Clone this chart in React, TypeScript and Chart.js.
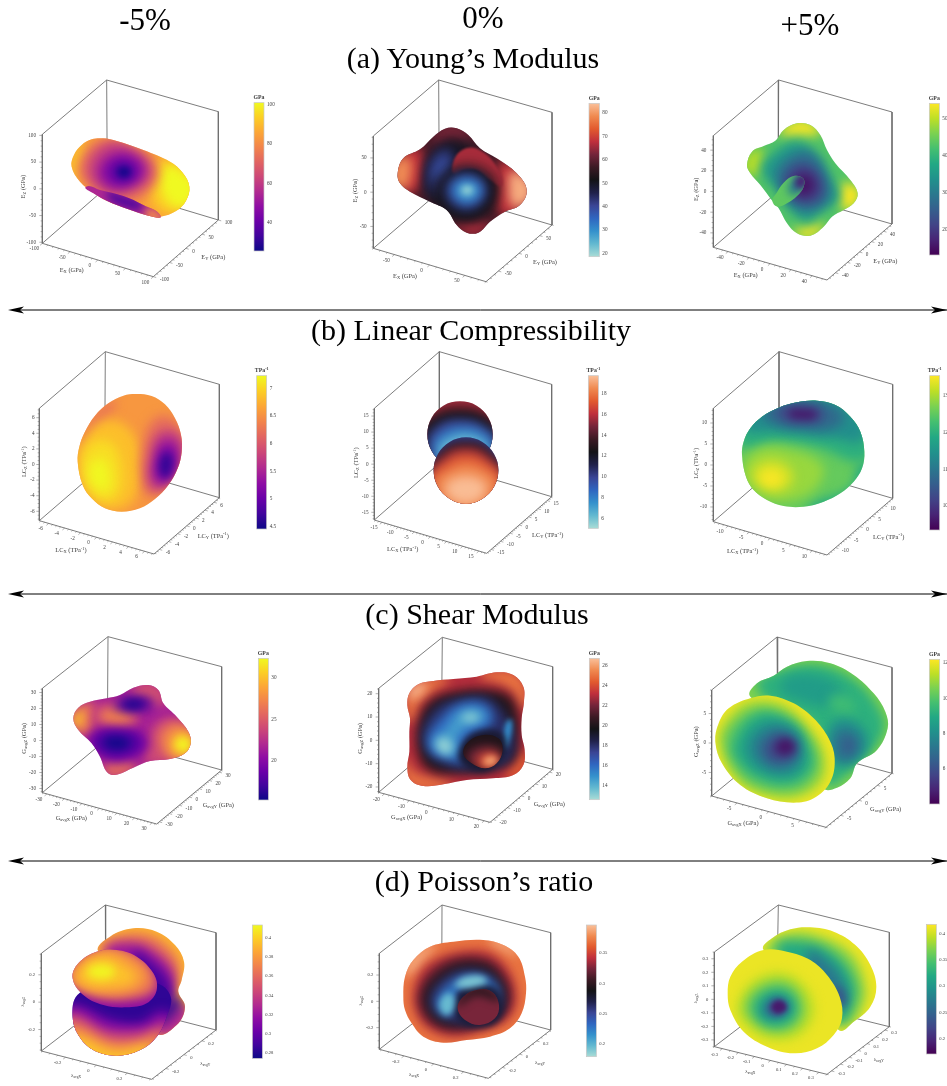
import React, { useEffect, useRef } from "react";
import { Chart, registerables } from "chart.js";

Chart.register(...registerables);

const FONT = '"Liberation Serif"';
const columnHeads = [{ t: "-5%", x: 145, y: 20 }, { t: "0%", x: 483, y: 18 }, { t: "+5%", x: 810, y: 25 }];
const sectionHeads = [
  { t: "(a) Young\u2019s Modulus", x: 473, y: 58 },
  { t: "(b) Linear Compressibility", x: 471, y: 330 },
  { t: "(c) Shear Modulus", x: 477, y: 614 },
  { t: "(d) Poisson\u2019s ratio", x: 484, y: 881 },
];
const separatorY = [310, 594, 861];

const plasma = ["#0d0887", "#41049d", "#6a00a8", "#8f0da4", "#b12a90", "#cc4778", "#e16462", "#f2844b", "#fca636", "#fcce25", "#f0f921"];
const viridis = ["#440154", "#482475", "#414487", "#355f8d", "#2a788e", "#21918c", "#22a884", "#44bf70", "#7ad151", "#bddf26", "#fde725"];
const icefire = ["#a9dcd6", "#63b9d0", "#3491cc", "#2f66c0", "#3a4595", "#20214a", "#131316", "#3b1a24", "#74243a", "#bf2f3c", "#e25a2e", "#f08a50", "#fac09a"];

function mix(map: string[], t: number) {
  const c = Math.max(0, Math.min(1, t)) * (map.length - 1);
  const i = Math.min(map.length - 2, Math.floor(c));
  const f = c - i;
  const a = map[i], b = map[i + 1];
  const ch = (s: string, k: number) => parseInt(s.slice(1 + k * 2, 3 + k * 2), 16);
  return `rgb(${[0, 1, 2].map((k) => Math.round(ch(a, k) + (ch(b, k) - ch(a, k)) * f)).join(",")})`;
}

type Layer = { v: number; pts: number[]; blur?: number };
type Region = { outline: number[]; base: number; layers: Layer[] };

/* Panel 1 */
const p1Body = [215,290,222,255,245,225,275,208,310,205,350,213,430,240,510,275,548,308,568,350,558,392,528,423,482,440,445,437,385,418,320,392,280,368,240,335];
const p1Under = [258,350,300,360,370,378,430,405,482,438,445,437,385,418,320,392,280,370];
const p1Regions: Region[] = [
  { outline: p1Body, base: 85, layers: [
    { v: 93, pts: [460,280,550,295,580,370,530,430,460,400] },
    { v: 101, pts: [495,290,560,310,590,360,545,415,490,375] },
    { v: 92, pts: [205,290,235,225,265,225,240,300,225,335] },
    { v: 73, pts: [235,290,295,210,400,225,475,295,430,380,340,400,265,350] },
    { v: 60, pts: [265,300,320,222,400,238,452,305,400,362,320,368] },
    { v: 47, pts: [298,300,345,252,412,265,432,310,385,348,325,348] },
    { v: 36, pts: [330,305,370,272,408,305,370,338] },
    { v: 27, pts: [352,305,372,290,392,305,372,322], blur: 3 },
  ] },
  { outline: p1Under, base: 55, layers: [
    { v: 80, pts: [440,415,480,430,495,450,445,450], blur: 4 },
    { v: 34, pts: [320,372,380,382,428,408,392,416], blur: 4 },
  ] },
];

/* Panel 2 */
const p2Body = [233,310,250,265,300,238,340,200,375,176,410,175,445,195,480,235,530,265,590,310,620,360,600,405,555,425,510,455,475,488,440,488,410,465,380,420,330,395,270,365,240,340];
const p2Regions: Region[] = [
  { outline: p2Body, base: 58, layers: [
    { v: 68, pts: [225,310,250,250,300,235,310,300,295,355,260,370] },
    { v: 79, pts: [215,310,245,258,272,272,270,328,255,355,225,350] },
    { v: 68, pts: [540,275,600,300,630,360,600,420,545,435,530,350] },
    { v: 82, pts: [575,305,615,320,640,365,605,410,575,405,565,350] },
    { v: 63, pts: [340,205,375,168,410,168,450,195,430,210,390,198,350,222] },
    { v: 66, pts: [400,458,440,450,480,452,510,460,475,495,440,495,415,475] },
    { v: 50, pts: [315,300,345,235,400,210,460,235,510,300,520,370,490,430,430,450,365,420,320,370] },
    { v: 44, pts: [330,270,385,235,400,290,360,375,325,360,320,310] },
    { v: 39, pts: [350,275,378,255,380,300,350,335,337,325,340,295] },
    { v: 66, pts: [396,300,408,258,438,235,475,238,520,275,548,345,510,330,470,300,430,300,405,312], blur: 1.2 },
    { v: 52, pts: [345,365,440,288,530,355,440,450], blur: 7 },
    { v: 44, pts: [370,362,440,303,505,360,440,425] },
    { v: 35, pts: [390,360,440,322,490,360,440,405] },
    { v: 27, pts: [408,360,440,336,475,360,440,390] },
    { v: 20, pts: [425,360,440,348,458,360,440,373], blur: 3 },
  ] },
];

/* Panel 3 */
const p3Body = [300,285,315,245,350,228,385,212,410,180,450,160,490,165,520,195,540,240,565,280,610,330,632,370,620,400,590,420,555,440,530,470,490,497,450,490,420,460,395,415,378,395,340,345,310,310];
const p3Small = [376,392,388,370,410,338,440,318,468,325,470,350,450,378,420,400,392,410];
const p3Regions: Region[] = [
  { outline: p3Body, base: 43, layers: [
    { v: 54, pts: [400,190,450,150,500,160,520,190,450,195] },
    { v: 50, pts: [290,290,310,245,345,240,340,290,320,320] },
    { v: 54, pts: [590,340,640,360,625,410,590,420,580,380] },
    { v: 54, pts: [440,480,490,470,530,465,490,505,450,495] },
    { v: 35, pts: [345,300,385,245,450,215,510,255,555,330,575,385,520,425,480,455,430,420,395,365] },
    { v: 28, pts: [385,310,425,260,490,245,540,320,545,390,480,425,430,400,400,355] },
    { v: 21, pts: [415,320,470,280,525,330,520,385,470,400,425,375] },
    { v: 15, pts: [438,335,480,312,503,350,477,378,448,367] },
  ] },
  { outline: p3Small, base: 44, layers: [
    { v: 30, pts: [430,335,465,310,480,345,445,375,425,370], blur: 4 },
    { v: 17, pts: [445,332,472,312,480,340,455,356], blur: 3 },
  ] },
];

/* Panel 4 */
const p4Body = [233,350,238,305,255,260,285,212,325,175,370,152,410,147,455,153,495,178,525,220,543,270,545,320,533,370,505,420,465,462,420,490,365,500,315,490,275,460,248,420];
const p4Regions: Region[] = [
  { outline: p4Body, base: 6.55, layers: [
    { v: 6.25, pts: [240,280,290,200,335,165,350,175,310,225,262,300] },
    { v: 6.85, pts: [235,340,265,260,330,225,395,260,425,350,400,465,330,495,255,445] },
    { v: 7.05, pts: [245,360,275,295,335,295,365,380,345,460,285,455] },
    { v: 7.22, pts: [265,390,300,340,330,390,315,440] },
    { v: 6.2, pts: [425,320,465,220,530,230,555,320,520,410,450,455,425,400] },
    { v: 5.7, pts: [450,340,482,260,545,280,540,345,510,415,455,430] },
    { v: 5.2, pts: [463,355,495,290,535,320,522,392,475,412] },
    { v: 4.65, pts: [478,357,500,322,518,350,502,398,485,392], blur: 4 },
  ] },
];

/* Panel 5 */
const p5Back = [322,268,335,218,370,182,420,169,470,182,505,218,518,268,505,318,470,354,420,367,370,354,335,318];
const p5Front = [341,376,354,327,389,291,438,277,487,291,522,327,535,376,522,425,487,461,438,476,389,461,354,425];
const p5Regions: Region[] = [
  { outline: p5Back, base: 15.5, layers: [
    { v: 12.5, pts: [300,260,350,205,420,190,490,205,540,260,500,380,340,380] },
    { v: 10, pts: [320,290,360,235,420,222,480,235,530,290,480,380,360,380] },
    { v: 8, pts: [340,300,380,255,430,245,480,255,520,300,480,380,380,380] },
    { v: 6, pts: [360,310,400,280,440,272,480,285,500,310,470,370,390,370] },
  ] },
  { outline: p5Front, base: 10, layers: [
    { v: 12.5, pts: [325,400,375,305,438,288,500,305,550,400,438,500] },
    { v: 15, pts: [325,400,380,318,438,302,495,318,550,400,438,500] },
    { v: 17, pts: [330,410,385,338,438,322,490,338,545,410,438,505] },
    { v: 18.4, pts: [340,420,395,365,438,352,485,365,535,420,438,505] },
    { v: 19.6, pts: [375,430,438,392,500,430,438,478] },
  ] },
];

/* Panel 6 */
const p6Body = [285,330,290,290,310,250,345,215,395,188,450,172,510,167,565,180,610,215,640,260,652,320,645,370,620,410,580,445,530,470,470,485,410,483,360,465,320,435,297,395];
const p6Regions: Region[] = [
  { outline: p6Body, base: 12.55, layers: [
    { v: 11.9, pts: [480,495,610,430,650,350,680,420,560,510] },
    { v: 12, pts: [270,290,320,190,470,150,640,190,670,330,620,350,520,310,400,290,300,310] },
    { v: 11.4, pts: [290,250,340,190,470,155,610,190,650,280,560,280,470,270,380,260] },
    { v: 10.8, pts: [345,205,420,170,540,175,590,220,540,255,460,250,390,240] },
    { v: 10.2, pts: [390,195,470,180,530,200,520,225,470,235,410,225] },
    { v: 9.6, pts: [425,205,470,195,510,208,475,222], blur: 4 },
    { v: 12.9, pts: [285,370,340,310,430,315,525,360,510,425,440,465,360,465,305,430] },
    { v: 13.3, pts: [315,385,370,345,435,380,420,430,355,435] },
    { v: 13.5, pts: [340,395,380,375,405,405,370,425], blur: 4 },
  ] },
];

/* Panel 7 */
const p7Body = [220,280,235,248,270,230,320,220,360,210,400,188,445,180,475,195,490,235,530,275,565,320,572,355,555,385,510,402,450,408,400,428,345,450,320,440,300,395,275,355,235,315];
const p7Regions: Region[] = [
  { outline: p7Body, base: 21.5, layers: [
    { v: 26, pts: [210,285,240,240,280,232,285,290,260,335,230,320] },
    { v: 30, pts: [215,285,235,255,252,262,245,302,228,310] },
    { v: 26, pts: [305,430,345,400,400,412,405,435,345,458,315,448] },
    { v: 24.5, pts: [395,190,445,172,485,192,495,238,450,232,405,215] },
    { v: 24, pts: [440,340,495,280,575,305,585,375,510,412,435,410] },
    { v: 27, pts: [478,340,520,295,580,322,580,380,520,405] },
    { v: 30, pts: [512,350,545,320,578,345,570,385,528,390] },
    { v: 32.3, pts: [528,355,552,338,570,355,552,380], blur: 4 },
    { v: 23.5, pts: [278,275,340,232,418,275,350,322] },
    { v: 27, pts: [298,272,340,248,398,275,350,302] },
    { v: 17.5, pts: [340,240,400,215,460,235,410,260,368,258] },
    { v: 15.8, pts: [370,238,400,226,430,238,400,250], blur: 4 },
    { v: 19, pts: [265,340,340,308,445,350,360,412,298,388] },
    { v: 17, pts: [288,345,340,322,415,350,350,388,298,372] },
    { v: 15.5, pts: [315,350,350,337,385,355,350,372], blur: 4 },
  ] },
];

/* Panel 8 */
const p8Body = [262,240,268,205,295,178,340,168,400,162,470,155,530,142,580,150,610,185,612,230,605,280,605,330,614,375,610,420,580,450,520,460,440,465,370,478,310,483,272,465,262,425,268,380,268,320,270,280];
const p8Lobe = [430,385,445,350,490,330,535,340,548,375,530,415,495,430,455,415];
const p8Regions: Region[] = [
  { outline: p8Body, base: 23, layers: [
    { v: 25, pts: [255,240,270,190,310,165,385,160,345,195,298,235,275,290] },
    { v: 26.6, pts: [262,215,285,180,318,176,292,215] },
    { v: 25, pts: [480,150,530,135,590,145,620,190,610,250,580,200,530,172] },
    { v: 24.5, pts: [555,455,580,420,610,375,620,425,585,460] },
    { v: 25, pts: [255,400,280,440,350,460,395,480,320,495,262,475] },
    { v: 20, pts: [295,300,330,230,410,200,500,195,570,215,595,280,595,340,585,400,520,435,420,445,340,440,300,400] },
    { v: 18, pts: [308,310,350,245,415,222,500,217,548,258,582,330,568,405,500,430,420,432,348,408,312,360] },
    { v: 16, pts: [322,340,360,280,420,235,490,235,520,280,490,320,440,345,430,410,380,400,335,385] },
    { v: 14.5, pts: [340,350,380,310,410,265,470,250,500,280,450,300,410,340,410,390,370,385] },
    { v: 13, pts: [350,350,375,338,397,360,385,387,358,377], blur: 4 },
    { v: 13.2, pts: [425,275,460,263,478,280,445,292], blur: 4 },
    { v: 15, pts: [560,290,575,285,570,340,550,370,550,330], blur: 2.5 },
    { v: 19, pts: [415,395,440,340,490,315,545,325,560,380,520,425,490,440,440,425], blur: 3 },
  ] },
  { outline: p8Lobe, base: 20, layers: [
    { v: 22, pts: [440,400,470,368,530,372,548,410,495,432] },
    { v: 24, pts: [468,410,500,383,538,395,522,428,495,432] },
    { v: 26, pts: [490,410,510,393,532,405,510,422], blur: 3 },
  ] },
];

/* Panel 9 */
const p9Back = [310,215,330,175,380,152,420,125,480,108,550,115,620,150,680,205,715,260,722,310,690,375,630,415,610,460,570,488,530,490,500,400,400,250];
const p9Front = [205,350,215,295,245,250,310,220,370,212,440,235,500,280,545,340,563,400,550,470,500,520,440,533,360,520,280,480,225,415];
const p9Regions: Region[] = [
  { outline: p9Back, base: 10.6, layers: [
    { v: 9.2, pts: [330,190,420,130,530,122,630,170,695,250,712,310,670,385,600,450,540,480,500,300] },
    { v: 8.5, pts: [400,180,500,150,590,200,560,240,470,230] },
    { v: 9.6, pts: [550,215,610,220,620,260,570,265] },
    { v: 8.1, pts: [560,290,640,300,660,370,600,420,550,400] },
    { v: 7, pts: [570,320,620,320,640,370,600,410,565,390] },
    { v: 6.4, pts: [590,350,610,340,620,365,600,385], blur: 4 },
  ] },
  { outline: p9Front, base: 12, layers: [
    { v: 11, pts: [215,350,228,300,300,232,400,235,470,290,530,380,525,470,440,520,350,510,260,455] },
    { v: 10, pts: [235,355,255,300,330,250,420,270,490,340,515,420,480,480,420,500,320,480,265,430] },
    { v: 9, pts: [260,360,330,270,420,285,480,360,490,430,420,475,330,455,280,415] },
    { v: 8, pts: [295,360,350,295,430,305,470,370,450,440,390,450,320,420] },
    { v: 7, pts: [325,365,375,315,440,330,455,385,425,425,370,425] },
    { v: 5.8, pts: [355,365,395,330,440,355,440,395,400,410,365,400] },
    { v: 4.5, pts: [385,365,415,340,445,365,420,390,395,385], blur: 4 },
  ] },
];

/* Panel 10 */
const p10Back = [295,185,330,140,400,115,470,125,525,165,552,215,545,270,535,305,555,350,530,405,470,430,420,300];
const p10Lower = [218,380,232,315,300,290,400,290,470,280,512,320,500,380,470,440,420,480,350,497,280,480,235,435];
const p10Top = [218,265,235,220,290,185,350,180,410,200,460,250,470,300,440,340,380,352,310,345,250,315];
const p10Regions: Region[] = [
  { outline: p10Back, base: 0.39, layers: [
    { v: 0.36, pts: [300,180,350,140,440,135,500,170,535,220,530,290,500,340,420,340] },
    { v: 0.32, pts: [320,185,400,160,470,190,520,250,515,310,480,360,420,300] },
    { v: 0.29, pts: [400,190,460,220,510,280,510,340,450,350] },
    { v: 0.33, pts: [460,400,520,350,565,350,545,420,470,440] },
    { v: 0.285, pts: [470,400,515,325,545,330,520,375] },
  ] },
  { outline: p10Lower, base: 0.283, layers: [
    { v: 0.31, pts: [190,360,235,345,330,388,420,398,490,362,540,420,420,560,340,570,190,520] },
    { v: 0.34, pts: [190,375,330,420,440,418,490,395,520,430,420,560,340,570,190,520] },
    { v: 0.37, pts: [190,400,330,448,420,448,470,425,490,450,420,560,340,570,190,520] },
    { v: 0.395, pts: [200,435,340,478,410,470,450,465,420,560,340,570,210,520] },
  ] },
  { outline: p10Top, base: 0.315, layers: [
    { v: 0.36, pts: [205,260,240,205,300,170,360,170,425,200,470,260,465,305,400,328,320,328,245,305] },
    { v: 0.38, pts: [210,260,300,180,400,205,445,270,370,312,275,305] },
    { v: 0.395, pts: [230,255,300,200,375,225,405,270,330,292,265,290] },
    { v: 0.412, pts: [262,245,305,222,345,245,305,268], blur: 4 },
  ] },
];

/* Panel 11 */
const p11Body = [250,320,255,260,280,210,330,170,400,155,490,150,550,165,595,200,615,260,618,310,605,370,570,415,510,440,440,450,370,458,310,440,275,400,255,360];
const p11Lobe = [413,355,430,320,470,300,515,305,537,345,525,385,480,405,435,390];
const p11Regions: Region[] = [
  { outline: p11Body, base: 0.37, layers: [
    { v: 0.39, pts: [250,250,285,190,345,165,320,200,280,250] },
    { v: 0.39, pts: [510,145,565,160,595,190,560,185] },
    { v: 0.34, pts: [280,310,305,240,355,205,420,185,500,185,555,225,585,290,585,350,555,392,490,420,400,440,325,415,290,370] },
    { v: 0.315, pts: [297,310,335,243,410,205,500,208,550,252,572,310,556,368,490,402,400,422,332,398,302,360] },
    { v: 0.295, pts: [312,320,347,262,420,222,500,227,543,270,558,320,538,373,480,398,390,408,337,383] },
    { v: 0.26, pts: [330,325,365,270,430,240,500,250,540,300,540,360,480,395,400,395,350,370] },
    { v: 0.225, pts: [350,335,385,285,440,258,510,270,535,320,500,320,430,300,400,350,395,370,365,370] },
    { v: 0.275, pts: [402,350,430,296,520,290,548,345,530,395,470,412,420,395], blur: 3 },
    { v: 0.19, pts: [405,285,450,258,500,270,470,288,430,293], blur: 3 },
    { v: 0.195, pts: [360,335,390,310,403,345,385,375,365,365], blur: 3 },
  ] },
  { outline: p11Lobe, base: 0.325, layers: [{ v: 0.295, pts: [405,345,470,290,545,325,530,332,470,316,420,345], blur: 4 }] },
];

/* Panel 12 */
const p12Back = [350,180,375,145,430,118,490,112,560,125,625,165,670,225,688,290,670,350,620,395,575,420,500,300,420,200];
const p12Front = [242,310,250,260,285,215,350,180,420,185,490,210,540,255,578,320,585,385,560,435,510,475,440,490,360,470,290,425,250,360];
const p12Regions: Region[] = [
  { outline: p12Back, base: 0.41, layers: [
    { v: 0.37, pts: [355,178,430,130,520,140,610,190,650,270,650,340,590,410,500,300,400,220] },
    { v: 0.32, pts: [390,175,470,155,560,190,620,270,620,340,570,400,500,300] },
    { v: 0.27, pts: [480,190,560,230,595,300,590,350,550,360] },
    { v: 0.23, pts: [570,290,595,320,590,350,575,340], blur: 4 },
  ] },
  { outline: p12Front, base: 0.41, layers: [
    { v: 0.39, pts: [270,350,330,265,430,255,500,340,470,425,380,450,300,410] },
    { v: 0.36, pts: [295,345,345,285,425,280,470,345,450,405,385,425,320,395] },
    { v: 0.32, pts: [320,345,360,303,420,303,450,350,430,395,380,410,335,390] },
    { v: 0.28, pts: [345,350,380,318,420,328,430,360,395,385,355,380], blur: 4 },
    { v: 0.23, pts: [362,350,395,326,420,350,402,376,376,374], blur: 3 },
    { v: 0.19, pts: [375,345,400,332,418,352,400,368,382,365], blur: 2 },
  ] },
];

/* Axis ticks */
const ticksE1 = [-100, -50, 0, 50, 100];
const ticksE2 = [-50, 0, 50];
const ticksE3 = [-40, -20, 0, 20, 40];
const ticksLC1 = [-6, -4, -2, 0, 2, 4, 6];
const ticksLC2 = [-15, -10, -5, 0, 5, 10, 15];
const ticksLC3 = [-10, -5, 0, 5, 10];
const ticksG1 = [-30, -20, -10, 0, 10, 20, 30];
const ticksG2 = [-20, -10, 0, 10, 20];
const ticksG3 = [-5, 0, 5];
const ticksP1 = [-0.2, 0, 0.2];
const ticksP3 = [-0.3, -0.2, -0.1, 0, 0.1, 0.2, 0.3];

/* Colour bar ticks */
const barE1 = [40, 60, 80, 100];
const barE2 = [20, 30, 40, 50, 60, 70, 80];
const barE3 = [20, 30, 40, 50];
const barLC1 = [4.5, 5, 5.5, 6, 6.5, 7];
const barLC2 = [6, 8, 10, 12, 14, 16, 18];
const barLC3 = [10, 11, 12, 13];
const barG1 = [20, 25, 30];
const barG2 = [14, 16, 18, 20, 22, 24, 26];
const barG3 = [6, 8, 10, 12];
const barP1 = [0.28, 0.3, 0.32, 0.34, 0.36, 0.38, 0.4];
const barP2 = [0.2, 0.25, 0.3, 0.35];
const barP3 = [0.2, 0.25, 0.3, 0.35, 0.4];

type Axis = { r: number; t: number[]; m: number };
type PanelCfg = {
  ox: number; oy: number; h: number; map: string[]; regions: Region[]; small?: boolean;
  A: number[]; B: number[]; C: number[]; E: number[]; F: number[]; G: number[];
  x: Axis; y: Axis; z: Axis; zRight: number;
  labels: { x: [string, number, number]; y: [string, number, number]; z: [string, number, number] };
  bar: { x0: number; x1: number; y0: number; y1: number; lo: number; hi: number; ticks: number[]; title?: string };
};

const panels: PanelCfg[] = [
  { ox: 0, oy: 70, h: 230, map: plasma, regions: p1Regions, A: [127,193], B: [320,30], C: [655,125], E: [127,520], F: [460,620], G: [655,450],
    x: { r: 100, t: ticksE1, m: 10 }, y: { r: 100, t: ticksE1, m: 10 }, z: { r: 102, t: ticksE1, m: 10 }, zRight: 108,
    labels: { x: ["E_{X} (GPa)", 215, 602], y: ["E_{Y} (GPa)", 640, 561], z: ["E_{Z} (GPa)", 70, 350] },
    bar: { x0: 762, x1: 792, y0: 98, y1: 543, lo: 25.8, hi: 101, ticks: barE1, title: "GPa" } },
  { ox: 320, oy: 70, h: 230, map: icefire, regions: p2Regions, A: [160,198], B: [356,30], C: [696,127], E: [160,535], F: [498,635], G: [696,465],
    x: { r: 80, t: ticksE2, m: 10 }, y: { r: 80, t: ticksE2, m: 10 }, z: { r: 82, t: ticksE2, m: 10 }, zRight: 140,
    labels: { x: ["E_{X} (GPa)", 255, 620], y: ["E_{Y} (GPa)", 675, 577], z: ["E_{Z} (GPa)", 107, 362] },
    bar: { x0: 807, x1: 838, y0: 100, y1: 560, lo: 18.7, hi: 84, ticks: barE2, title: "GPa" } },
  { ox: 647, oy: 70, h: 230, map: viridis, regions: p3Regions, A: [199,197], B: [395,30], C: [735,126], E: [199,532], F: [540,630], G: [735,462],
    x: { r: 54, t: ticksE3, m: 5 }, y: { r: 54, t: ticksE3, m: 5 }, z: { r: 54, t: ticksE3, m: 5 }, zRight: 178,
    labels: { x: ["E_{X} (GPa)", 296, 617], y: ["E_{Y} (GPa)", 715, 573], z: ["E_{Z} (GPa)", 147, 358] },
    bar: { x0: 847, x1: 877, y0: 100, y1: 555, lo: 13, hi: 54.3, ticks: barE3, title: "GPa" } },
  { ox: 0, oy: 345, h: 230, map: plasma, regions: p4Regions, A: [118,190], B: [316,20], C: [658,118], E: [118,527], F: [462,627], G: [658,458],
    x: { r: 7.17, t: ticksLC1, m: 0.5 }, y: { r: 7.17, t: ticksLC1, m: 0.5 }, z: { r: 7.2, t: ticksLC1, m: 0.5 }, zRight: 104,
    labels: { x: ["LC_{X} (TPa^{-1})", 213, 616], y: ["LC_{Y} (TPa^{-1})", 640, 573], z: ["LC_{Z} (TPa^{-1})", 73, 350] },
    bar: { x0: 770, x1: 800, y0: 92, y1: 552, lo: 4.46, hi: 7.23, ticks: barLC1, title: "TPa^{-1}" } },
  { ox: 320, oy: 345, h: 230, map: icefire, regions: p5Regions, A: [163,190], B: [358,20], C: [695,118], E: [163,525], F: [500,625], G: [695,455],
    x: { r: 17.4, t: ticksLC2, m: 1 }, y: { r: 17.4, t: ticksLC2, m: 1 }, z: { r: 17.4, t: ticksLC2, m: 1 }, zRight: 146,
    labels: { x: ["LC_{X} (TPa^{-1})", 248, 613], y: ["LC_{Y} (TPa^{-1})", 683, 571], z: ["LC_{Z} (TPa^{-1})", 110, 353] },
    bar: { x0: 805, x1: 835, y0: 92, y1: 550, lo: 5.07, hi: 19.7, ticks: barLC2, title: "TPa^{-1}" } },
  { ox: 647, oy: 345, h: 230, map: viridis, regions: p6Regions, A: [199,190], B: [396,20], C: [737,118], E: [199,530], F: [540,630], G: [737,460],
    x: { r: 13.5, t: ticksLC3, m: 1 }, y: { r: 13.5, t: ticksLC3, m: 1 }, z: { r: 13.5, t: ticksLC3, m: 1 }, zRight: 180,
    labels: { x: ["LC_{X} (TPa^{-1})", 287, 619], y: ["LC_{Y} (TPa^{-1})", 725, 576], z: ["LC_{Z} (TPa^{-1})", 148, 355] },
    bar: { x0: 848, x1: 878, y0: 92, y1: 555, lo: 9.35, hi: 13.55, ticks: barLC3, title: "TPa^{-1}" } },
  { ox: 0, oy: 625, h: 230, map: plasma, regions: p7Regions, A: [127,190], B: [324,35], C: [665,125], E: [127,503], F: [470,597], G: [665,435],
    x: { r: 32.6, t: ticksG1, m: 2 }, y: { r: 32.6, t: ticksG1, m: 2 }, z: { r: 32.6, t: ticksG1, m: 2 }, zRight: 108,
    labels: { x: ["G_{avgX} (GPa)", 214, 581], y: ["G_{avgY} (GPa)", 655, 541], z: ["G_{avgZ} (GPa)", 73, 340] },
    bar: { x0: 775, x1: 805, y0: 100, y1: 525, lo: 15.3, hi: 32.3, ticks: barG1, title: "GPa" } },
  { ox: 320, oy: 625, h: 230, map: icefire, regions: p8Regions, A: [176,190], B: [367,37], C: [698,125], E: [176,502], F: [510,592], G: [698,433],
    x: { r: 22.3, t: ticksG2, m: 2 }, y: { r: 22.3, t: ticksG2, m: 2 }, z: { r: 22.3, t: ticksG2, m: 2 }, zRight: 157,
    labels: { x: ["G_{avgX} (GPa)", 260, 578], y: ["G_{avgY} (GPa)", 688, 539], z: ["G_{avgZ} (GPa)", 122, 340] },
    bar: { x0: 808, x1: 838, y0: 100, y1: 524, lo: 12.56, hi: 26.7, ticks: barG2, title: "GPa" } },
  { ox: 647, oy: 625, h: 230, map: viridis, regions: p9Regions, A: [194,195], B: [390,36], C: [735,127], E: [194,513], F: [537,607], G: [735,445],
    x: { r: 9, t: ticksG3, m: 1 }, y: { r: 9, t: ticksG3, m: 1 }, z: { r: 9, t: ticksG3, m: 1 }, zRight: 177,
    labels: { x: ["G_{avgX} (GPa)", 288, 594], y: ["G_{avgY} (GPa)", 716, 553], z: ["G_{avgZ} (GPa)", 147, 350] },
    bar: { x0: 847, x1: 878, y0: 103, y1: 537, lo: 4.02, hi: 12.2, ticks: barG3, title: "GPa" } },
  { ox: 0, oy: 890, h: 196, small: true, map: plasma, regions: p10Regions, A: [124,190], B: [316,45], C: [648,128], E: [124,483], F: [455,568], G: [648,420],
    x: { r: 0.357, t: ticksP1, m: 0.05 }, y: { r: 0.357, t: ticksP1, m: 0.05 }, z: { r: 0.357, t: ticksP1, m: 0.05 }, zRight: 105,
    labels: { x: ["\u03bb_{avgX}", 228, 558], y: ["\u03bb_{avgY}", 616, 520], z: ["\u03bb_{avgZ}", 68, 335] },
    bar: { x0: 757, x1: 787, y0: 105, y1: 505, lo: 0.274, hi: 0.4136, ticks: barP1 } },
  { ox: 320, oy: 890, h: 196, small: true, map: icefire, regions: p11Regions, A: [178,190], B: [366,45], C: [692,128], E: [178,478], F: [505,565], G: [692,420],
    x: { r: 0.365, t: ticksP1, m: 0.05 }, y: { r: 0.365, t: ticksP1, m: 0.05 }, z: { r: 0.365, t: ticksP1, m: 0.05 }, zRight: 160,
    labels: { x: ["\u03bb_{avgX}", 282, 554], y: ["\u03bb_{avgY}", 660, 517], z: ["\u03bb_{avgZ}", 122, 332] },
    bar: { x0: 799, x1: 829, y0: 105, y1: 500, lo: 0.178, hi: 0.397, ticks: barP2 } },
  { ox: 647, oy: 890, h: 196, small: true, map: viridis, regions: p12Regions, A: [202,186], B: [394,45], C: [727,127], E: [202,470], F: [540,553], G: [727,410],
    x: { r: 0.35, t: ticksP3, m: 0.05 }, y: { r: 0.35, t: ticksP3, m: 0.05 }, z: { r: 0.35, t: ticksP3, m: 0.05 }, zRight: 184,
    labels: { x: ["\u03bb_{avgX}", 310, 544], y: ["\u03bb_{avgY}", 695, 510], z: ["\u03bb_{avgZ}", 145, 325] },
    bar: { x0: 838, x1: 868, y0: 103, y1: 492, lo: 0.172, hi: 0.417, ticks: barP3 } },
];

function tracePath(ctx: CanvasRenderingContext2D, p: { x: number; y: number }[], straight = false) {
  const n = p.length;
  ctx.beginPath();
  ctx.moveTo(p[0].x, p[0].y);
  const tan = (i: number) => {
    const a = p[(i - 1 + n) % n], b = p[(i + 1) % n];
    const d = Math.hypot(b.x - a.x, b.y - a.y) || 1;
    return [(b.x - a.x) / d, (b.y - a.y) / d];
  };
  for (let i = 0; i < n; i++) {
    const j = (i + 1) % n;
    const p1 = p[i], p2 = p[j];
    if (straight) { ctx.lineTo(p2.x, p2.y); continue; }
    const len = Math.hypot(p2.x - p1.x, p2.y - p1.y) * 0.36;
    const t1 = tan(i), t2 = tan(j);
    ctx.bezierCurveTo(p1.x + t1[0] * len, p1.y + t1[1] * len, p2.x - t2[0] * len, p2.y - t2[1] * len, p2.x, p2.y);
  }
  ctx.closePath();
}

const shapePlugin = {
  id: "shapes",
  afterDatasetDraw(chart: any, args: any) {
    const ds = chart.data.datasets[args.index];
    const ctx = chart.ctx;
    const pts = args.meta.data;
    if (ds.bar) {
      const [a, b] = pts;
      const g = ctx.createLinearGradient(0, a.y, 0, b.y);
      ds.map.forEach((_: string, i: number) => g.addColorStop(1 - i / (ds.map.length - 1), ds.map[i]));
      ctx.save();
      ctx.fillStyle = g;
      ctx.fillRect(a.x, a.y, b.x - a.x, b.y - a.y);
      ctx.strokeStyle = "#c8c8c8";
      ctx.lineWidth = 0.7;
      ctx.strokeRect(a.x, a.y, b.x - a.x, b.y - a.y);
      ctx.restore();
      return;
    }
    if (!ds.blob) return;
    ctx.save();
    if (ds.clipIdx != null) {
      tracePath(ctx, chart.getDatasetMeta(ds.clipIdx).data);
      ctx.clip();
      ctx.filter = `blur(${ds.blurPx}px)`;
    }
    tracePath(ctx, pts, ds.straight);
    ctx.fillStyle = ds.blob;
    ctx.fill();
    ctx.restore();
  },
};

function drawRich(ctx: CanvasRenderingContext2D, s: string, x: number, y: number, size: number, opts: { align?: string; rot?: boolean; bold?: boolean } = {}) {
  const parts: { t: string; k: string }[] = [];
  const re = /([_^])\{([^}]*)\}|([^_^]+)/g;
  let m: RegExpExecArray | null;
  while ((m = re.exec(s))) parts.push(m[1] ? { t: m[2], k: m[1] } : { t: m[3], k: "" });
  const font = (k: string) => `${opts.bold ? "bold " : ""}${k ? size * 0.7 : size}px ${FONT}`;
  let w = 0;
  parts.forEach((p) => { ctx.font = font(p.k); w += ctx.measureText(p.t).width; });
  ctx.save();
  ctx.translate(x, y);
  if (opts.rot) ctx.rotate(-Math.PI / 2);
  ctx.textBaseline = "middle";
  ctx.textAlign = "left";
  ctx.fillStyle = "#3c3c3c";
  let cx = opts.align === "left" ? 0 : opts.align === "right" ? -w : -w / 2;
  parts.forEach((p) => {
    ctx.font = font(p.k);
    ctx.fillText(p.t, cx, p.k === "_" ? size * 0.25 : p.k === "^" ? -size * 0.3 : 0);
    cx += ctx.measureText(p.t).width;
  });
  ctx.restore();
}

const along = (a: number[], b: number[], ax: Axis, v: number) => {
  const t = (v + ax.r) / (2 * ax.r);
  return [a[0] + (b[0] - a[0]) * t, a[1] + (b[1] - a[1]) * t];
};
const unit = (a: number[], b: number[]) => {
  const d = Math.hypot(b[0] - a[0], b[1] - a[1]);
  return [(b[0] - a[0]) / d, (b[1] - a[1]) / d];
};

function tickValues(ax: Axis) {
  const out: number[] = [];
  const n = Math.floor(ax.r / ax.m + 1e-6);
  for (let i = -n; i <= n; i++) out.push(i * ax.m);
  return out;
}

function Panel({ cfg }: { cfg: PanelCfg }) {
  const ref = useRef<HTMLCanvasElement>(null);
  useEffect(() => {
    const { A, B, C, E, F, G, x, y, z, bar, map, regions } = cfg;
    const H = [E[0] + G[0] - F[0], E[1] + G[1] - F[1]];
    const seg = (list: number[][][]) => list.flatMap(([a, b]) => [{ x: a[0], y: a[1] }, { x: b[0], y: b[1] }, { x: null, y: null }]);
    const boxLines = seg([[A, B], [B, C], [C, G], [B, H], [H, E], [H, G], [A, E], [E, F], [F, G]]);
    const xDir = unit(G, F), yDir = unit(E, F), zDir = [-1, 0];
    const tickSeg: number[][][] = [];
    const addTicks = (a: number[], b: number[], ax: Axis, dir: number[]) => {
      tickValues(ax).forEach((v) => {
        const p = along(a, b, ax, v);
        const len = ax.t.some((t) => Math.abs(t - v) < ax.m / 10) ? 9 : 5;
        tickSeg.push([p, [p[0] + dir[0] * len, p[1] + dir[1] * len]]);
      });
    };
    addTicks(E, F, x, xDir);
    addTicks(F, G, y, yDir);
    addTicks(E, A, z, zDir);

    const line = (data: any[], width: number, color: string) => ({
      data, showLine: true, spanGaps: false, pointRadius: 0, borderColor: color, borderWidth: width, fill: false, tension: 0,
    });
    const toPts = (f: number[]) => { const o = []; for (let i = 0; i < f.length; i += 2) o.push({ x: f[i], y: f[i + 1] }); return o; };
    const col = (v: number) => mix(map, (v - bar.lo) / (bar.hi - bar.lo));
    const datasets: any[] = [line(boxLines, 0.9, "#6e6e6e"), line(seg(tickSeg), 0.5, "#666666")];
    regions.forEach((r) => {
      const idx = datasets.length;
      datasets.push({ data: toPts(r.outline), showLine: false, pointRadius: 0, blob: col(r.base) });
      r.layers.forEach((l) => datasets.push({ data: toPts(l.pts), showLine: false, pointRadius: 0, blob: col(l.v), clipIdx: idx, blurPx: l.blur ?? 5.5 }));
    });
    datasets.push({ data: [{ x: bar.x0, y: bar.y0 }, { x: bar.x1, y: bar.y1 }], showLine: false, pointRadius: 0, bar: true, map });
    datasets.forEach((d, i) => { d.order = datasets.length - i; });

    const textPlugin = {
      id: "panelText",
      afterDraw(chart: any) {
        const ctx = chart.ctx;
        const sx = (v: number) => chart.scales.x.getPixelForValue(v);
        const sy = (v: number) => chart.scales.y.getPixelForValue(v);
        const ts = cfg.small ? 4.6 : 5.2;
        const ls = cfg.small ? 5 : 6.4;
        x.t.forEach((v) => { const p = along(E, F, x, v); drawRich(ctx, String(v), sx(p[0] - 24), sy(p[1] + 17), ts); });
        y.t.forEach((v) => { const p = along(F, G, y, v); drawRich(ctx, String(v), sx(p[0] + 19), sy(p[1] + 9), ts, { align: "left" }); });
        z.t.forEach((v) => { const p = along(E, A, z, v); drawRich(ctx, String(v), sx(cfg.zRight), sy(p[1]), ts, { align: "right" }); });
        drawRich(ctx, cfg.labels.x[0], sx(cfg.labels.x[1]), sy(cfg.labels.x[2]), ls);
        drawRich(ctx, cfg.labels.y[0], sx(cfg.labels.y[1]), sy(cfg.labels.y[2]), ls);
        drawRich(ctx, cfg.labels.z[0], sx(cfg.labels.z[1]), sy(cfg.labels.z[2]), ls, { rot: true });
        bar.ticks.forEach((v) => {
          const yy = bar.y1 + (bar.y0 - bar.y1) * (v - bar.lo) / (bar.hi - bar.lo);
          drawRich(ctx, String(v), sx(bar.x1 + 9), sy(yy), ts, { align: "left" });
        });
        if (bar.title) drawRich(ctx, bar.title, sx((bar.x0 + bar.x1) / 2), sy(bar.y0 - 15), ts + 0.6, { bold: true });
      },
    };

    const chart = new Chart(ref.current as HTMLCanvasElement, {
      type: "scatter",
      data: { datasets },
      options: {
        animation: false, responsive: false, devicePixelRatio: 1,
        layout: { padding: 0 },
        plugins: { legend: { display: false }, tooltip: { enabled: false }, title: { display: false } },
        scales: {
          x: { type: "linear", min: 0, max: 900, display: false },
          y: { type: "linear", min: 0, max: cfg.h * 3, reverse: true, display: false },
        },
      },
      plugins: [shapePlugin, textPlugin],
    } as any);
    return () => chart.destroy();
  }, [cfg]);
  return <canvas ref={ref} width={300} height={cfg.h} style={{ position: "absolute", left: cfg.ox, top: cfg.oy, width: 300, height: cfg.h }} />;
}

function Separators() {
  const ref = useRef<HTMLCanvasElement>(null);
  useEffect(() => {
    const datasets: any[] = [];
    separatorY.forEach((y) => {
      datasets.push({ data: [{ x: 14, y }, { x: 947, y }], showLine: true, pointRadius: 0, borderColor: "#000", borderWidth: 1, tension: 0 });
      datasets.push({ data: [{ x: 8, y }, { x: 24, y: y - 3.5 }, { x: 20, y }, { x: 24, y: y + 3.5 }], showLine: false, pointRadius: 0, blob: "#000", straight: true });
      datasets.push({ data: [{ x: 947, y }, { x: 931, y: y - 3.5 }, { x: 935, y }, { x: 931, y: y + 3.5 }], showLine: false, pointRadius: 0, blob: "#000", straight: true });
    });
    const chart = new Chart(ref.current as HTMLCanvasElement, {
      type: "scatter",
      data: { datasets },
      options: {
        animation: false, responsive: false, devicePixelRatio: 1, layout: { padding: 0 },
        plugins: { legend: { display: false }, tooltip: { enabled: false } },
        scales: { x: { type: "linear", min: 0, max: 947, display: false }, y: { type: "linear", min: 0, max: 1086, reverse: true, display: false } },
      },
      plugins: [shapePlugin],
    } as any);
    return () => chart.destroy();
  }, []);
  return <canvas ref={ref} width={947} height={1086} style={{ position: "absolute", left: 0, top: 0, width: 947, height: 1086 }} />;
}

export default function App() {
  const head = (h: { t: string; x: number; y: number }, size: number) => (
    <div key={h.t} style={{ position: "absolute", left: h.x - 300, top: h.y - 25, width: 600, height: 50, lineHeight: "50px", textAlign: "center", fontFamily: FONT, fontSize: size, color: "#000", whiteSpace: "nowrap" }}>{h.t}</div>
  );
  return (
    <div style={{ position: "absolute", left: 0, top: 0, width: 947, height: 1086, overflow: "hidden", background: "#fff" }}>
      <Separators />
      {panels.map((p, i) => <Panel key={i} cfg={p} />)}
      {columnHeads.map((h) => head(h, 31))}
      {sectionHeads.map((h) => head(h, 30))}
    </div>
  );
}
